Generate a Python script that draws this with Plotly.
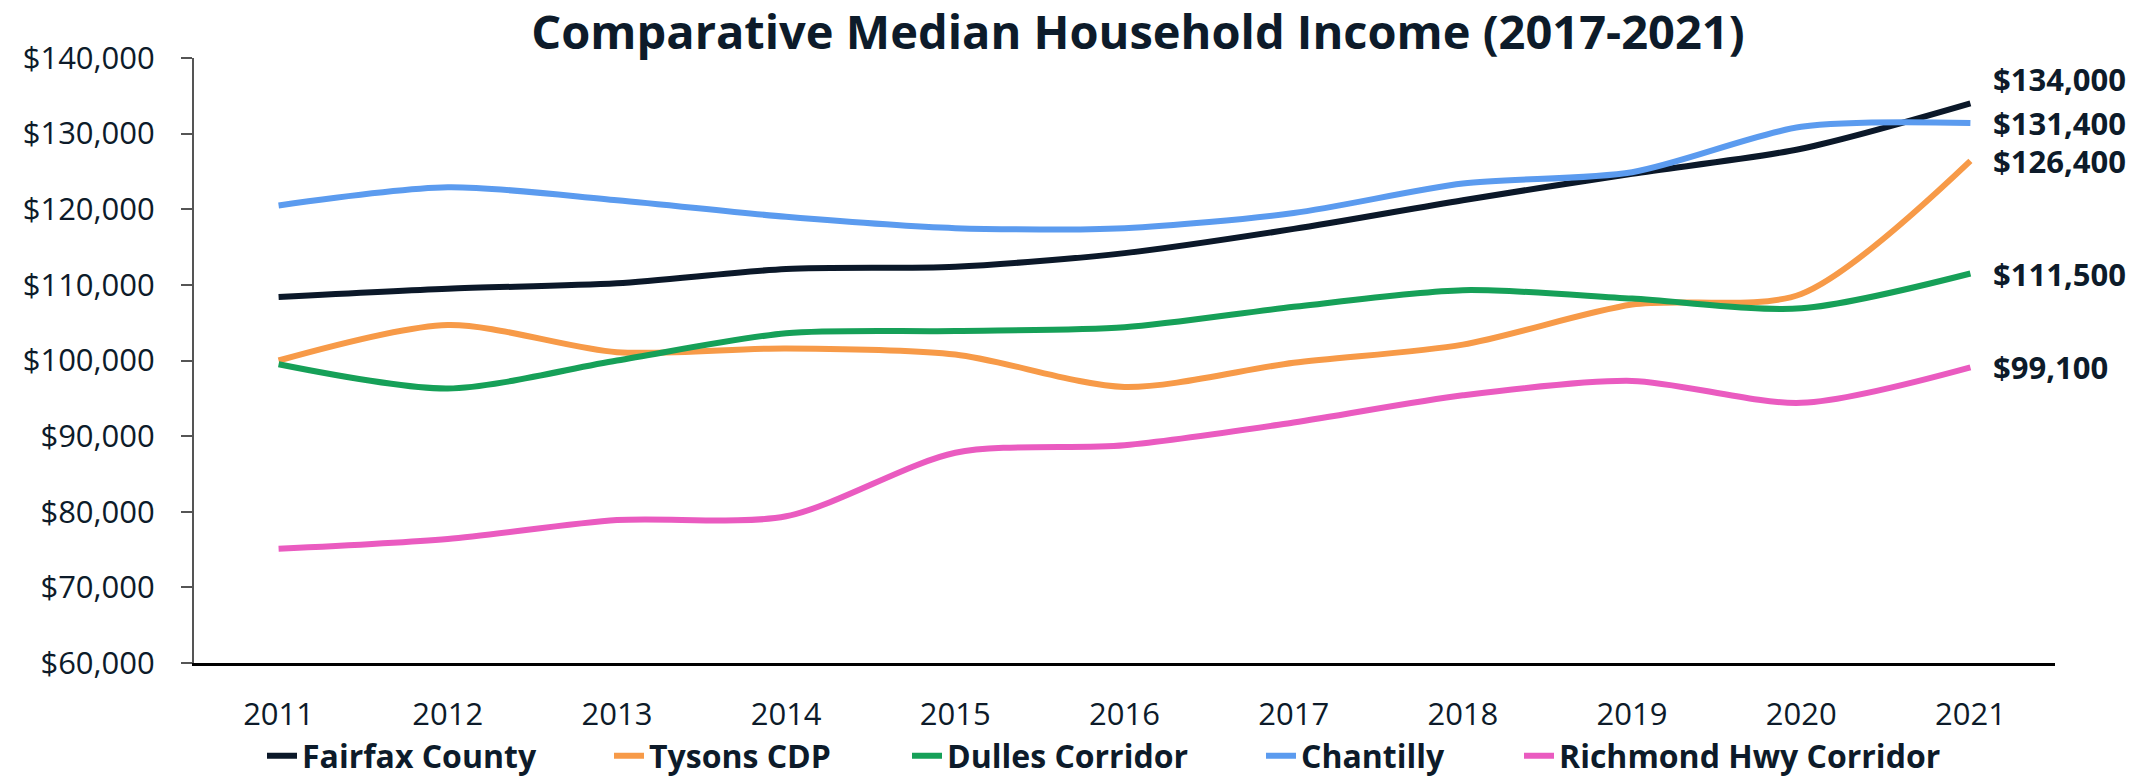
import plotly.graph_objects as go

years = [2011, 2012, 2013, 2014, 2015, 2016, 2017, 2018, 2019, 2020, 2021]
fairfax = [108400, 109500, 110200, 112100, 112400, 114200, 117400, 121200, 124700, 128000, 134000]
tysons = [100000, 104700, 101100, 101600, 100800, 96500, 99700, 102100, 107400, 108800, 126400]
dulles = [99500, 96300, 100000, 103600, 103900, 104400, 107100, 109300, 108200, 106900, 111500]
chantilly = [120500, 122900, 121200, 119000, 117500, 117500, 119500, 123400, 124900, 130900, 131400]
richmond = [75100, 76400, 78900, 79400, 87800, 88800, 91800, 95400, 97300, 94400, 99100]

names = ["Fairfax County", "Tysons CDP", "Dulles Corridor", "Chantilly", "Richmond Hwy Corridor"]
series = [fairfax, tysons, dulles, chantilly, richmond]
colors = ["#0b1829", "#f79a48", "#16a058", "#5b9bef", "#ea5bc0"]
label_yshift = [24, 0, 0, 0, 0]
legend_text_px = [303, 650, 948, 1302, 1560]

NAVY = "#0d1b2a"
FONT = "Open Sans"
W, H = 2146, 776

fig = go.Figure()
legend_ids = ["legend", "legend2", "legend3", "legend4", "legend5"]
for name, vals, col, lid in zip(names, series, colors, legend_ids):
    fig.add_trace(go.Scatter(
        x=years, y=vals, name=name, mode="lines",
        line=dict(color=col, width=6, shape="spline", smoothing=0.8),
        legend=lid,
    ))

for vals, col, ys in zip(series, colors, label_yshift):
    fig.add_annotation(
        x=years[-1], y=vals[-1], xref="x", yref="y",
        text=f"<b>${vals[-1]:,}</b>", showarrow=False,
        xanchor="left", yanchor="middle", xshift=21, yshift=ys,
        font=dict(family=FONT, size=31, color=NAVY),
    )

layout_legends = {}
for lid, tx in zip(legend_ids, legend_text_px):
    layout_legends[lid] = dict(
        x=(tx - 41) / W, xref="container", xanchor="left",
        y=1 - 756 / H, yref="container", yanchor="middle",
        orientation="h", bgcolor="rgba(0,0,0,0)", borderwidth=0,
        font=dict(family=FONT, size=32, color=NAVY, weight="bold"),
    )

fig.update_layout(
    width=W, height=H,
    paper_bgcolor="white", plot_bgcolor="white",
    margin=dict(l=194, r=91, t=58, b=113, autoexpand=False),
    title=dict(
        text="<b>Comparative Median Household Income (2017-2021)</b>",
        x=1138 / W, xref="container", xanchor="center",
        y=1 - 33 / H, yref="container", yanchor="middle",
        font=dict(family=FONT, size=47, color=NAVY),
    ),
    font=dict(family=FONT, color=NAVY),
    showlegend=True,
    **layout_legends,
)

fig.update_xaxes(
    range=[2010.5, 2021.5], tickmode="array", tickvals=years,
    ticktext=[str(y) for y in years],
    showgrid=False, zeroline=False, automargin=False,
    showline=True, linecolor="#000000", linewidth=2.5,
    ticks="", ticklabelstandoff=22,
    tickfont=dict(family=FONT, size=31, color=NAVY),
)
fig.update_yaxes(
    range=[60000, 140000], dtick=10000, tick0=60000,
    tickformat="$,.0f", automargin=False,
    showgrid=False, zeroline=False,
    showline=True, linecolor="#555555", linewidth=2,
    ticks="outside", ticklen=11, tickwidth=2, tickcolor="#555555",
    ticklabelstandoff=20,
    tickfont=dict(family=FONT, size=31, color=NAVY),
)

fig.write_html(
    "out.html",
    config={"displayModeBar": False},
    post_script="document.body.style.margin='0';document.body.style.padding='0';document.body.style.overflow='hidden';",
)
